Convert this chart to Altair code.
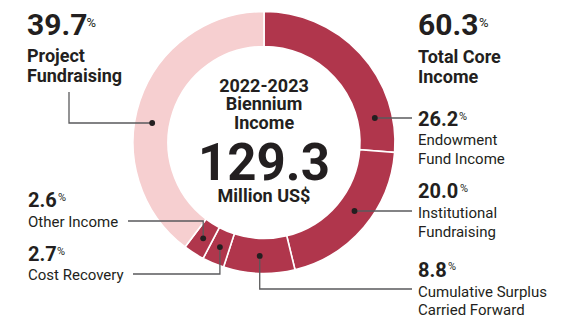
import math
import altair as alt
import pandas as pd

# ---------------- data ----------------
categories = ["Endowment Fund Income", "Institutional Fundraising",
              "Cumulative Surplus Carried Forward", "Cost Recovery",
              "Other Income", "Project Fundraising"]
shares = [26.2, 20.0, 8.8, 2.7, 2.6, 39.7]
groups = ["core", "core", "core", "core", "core", "project"]
total_core = 60.3
total_income = "129.3"

# ---------------- layout (page px) ----------------
OFF = 8
W, H = 562, 309
CX, CY = 264, 142.5
R_IN, R_OUT = 96, 131
R_MID = (R_IN + R_OUT) / 2
FONT = "Roboto"
DARK = "#231f20"
RED = "#b0364c"
PINK = "#f6cfd0"
LINE = "#5a5a5c"

df = pd.DataFrame({"cat": categories, "share": shares, "grp": groups,
                   "idx": list(range(len(categories)))})

# angle spans from data (clockwise from 12 o'clock)
cum = 0.0
spans = []
tot = sum(shares)
for s in shares:
    a0 = cum / tot * 360
    cum += s
    a1 = cum / tot * 360
    spans.append((a0, a1))

def pt(angle_deg, r):
    a = math.radians(angle_deg)
    return CX + r * math.sin(a), CY - r * math.cos(a)

def ring_at_y(y, side):
    dy = y - CY
    dx = math.sqrt(R_MID ** 2 - dy ** 2)
    return (CX + dx if side > 0 else CX - dx), y

# leader routing per category: (mode, leader y, end x)
routes = {
    "Endowment Fund Income": ("h", 118, 412),
    "Institutional Fundraising": ("h", 211, 412),
    "Cumulative Surplus Carried Forward": ("v", 289, 412),
    "Cost Recovery": ("v", 274, 133),
    "Other Income": ("v", 221, 128),
    "Project Fundraising": ("hv", 123, 69),
}
dots, segs = [], []
for i, c in enumerate(categories):
    mode, ly, ex = routes[c]
    a0, a1 = spans[i]
    if mode in ("h", "hv"):
        side = 1 if ex > CX else -1
        dx, dy = ring_at_y(ly, side)
        pts = [(dx, dy), (ex, ly)]
        if mode == "hv":
            pts.append((ex, 92))
    else:
        dx, dy = pt((a0 + a1) / 2, R_MID)
        pts = [(dx, dy), (dx, ly), (ex, ly)]
    dots.append({"x": dx - OFF, "y": dy - OFF})
    for k, (px, py) in enumerate(pts):
        segs.append({"cat": c, "k": k, "x": px - OFF, "y": py - OFF})
dots_df = pd.DataFrame(dots)
segs_df = pd.DataFrame(segs)

# text items: (text, x, y, size, weight, align)
texts = [
    (f"{shares[5]}", 27, 35, 30, "bold", "left"),
    ("%", 86.5, 27, 13, "normal", "left"),
    ("Project", 27, 62, 18, "bold", "left"),
    ("Fundraising", 27, 82, 18, "bold", "left"),
    (f"{total_core}", 418, 35, 30, "bold", "left"),
    ("%", 479, 27, 13, "normal", "left"),
    ("Total Core", 418, 63, 18, "bold", "left"),
    ("Income", 418, 83, 18, "bold", "left"),
    ("2022-2023", CX, 91.7, 18, "bold", "center"),
    ("Biennium", CX, 110, 18, "bold", "center"),
    ("Income", CX, 128.5, 18, "bold", "center"),
    (total_income, CX, 180, 51, "bold", "center"),
    ("Million US$", CX, 201.7, 18, "bold", "center"),
    (f"{shares[0]}", 418, 126, 20, "bold", "left"),
    ("%", 459, 119.5, 11, "normal", "left"),
    ("Endowment", 418, 145, 15, "normal", "left"),
    ("Fund Income", 418, 164, 15, "normal", "left"),
    (f"{shares[1]:.1f}", 418, 198.3, 20, "bold", "left"),
    ("%", 460, 191.5, 11, "normal", "left"),
    ("Institutional", 418, 218.3, 15, "normal", "left"),
    ("Fundraising", 418, 236.7, 15, "normal", "left"),
    (f"{shares[2]}", 418, 276.7, 20, "bold", "left"),
    ("%", 448, 270, 11, "normal", "left"),
    ("Cumulative Surplus", 418, 296.7, 15, "normal", "left"),
    ("Carried Forward", 418, 315, 15, "normal", "left"),
    (f"{shares[4]}", 28, 206.7, 20, "bold", "left"),
    ("%", 58, 200.5, 11, "normal", "left"),
    ("Other Income", 28, 226.7, 15, "normal", "left"),
    (f"{shares[3]}", 28, 261, 20, "bold", "left"),
    ("%", 57, 254.5, 11, "normal", "left"),
    ("Cost Recovery", 28, 280, 15, "normal", "left"),
]
tdf = pd.DataFrame(texts, columns=["t", "x", "y", "size", "weight", "align"])
tdf["x"] = tdf["x"] - OFF
tdf["y"] = tdf["y"] - OFF

X = lambda f: alt.X(f, scale=None, axis=None)
Y = lambda f: alt.Y(f, scale=None, axis=None)

donut = alt.Chart(df).mark_arc(innerRadius=R_IN, outerRadius=R_OUT,
                               stroke="white", strokeWidth=1.6).encode(
    theta=alt.Theta("share:Q", stack=True),
    order=alt.Order("idx:Q"),
    color=alt.Color("grp:N", scale=alt.Scale(domain=["core", "project"],
                                             range=[RED, PINK]), legend=None),
    x=alt.value(CX - OFF),
    y=alt.value(CY - OFF),
)

lines = alt.Chart(segs_df).mark_line(color=LINE, strokeWidth=1.3,
                                     strokeJoin="miter").encode(
    x=X("x:Q"), y=Y("y:Q"), detail="cat:N", order="k:Q")

points = alt.Chart(dots_df).mark_circle(size=34, color=DARK, opacity=1).encode(
    x=X("x:Q"), y=Y("y:Q"))

layers = [donut, lines, points]
for (size, weight, align), sub in tdf.groupby(["size", "weight", "align"]):
    layers.append(
        alt.Chart(sub).mark_text(font=FONT, fontSize=int(size), fontWeight=weight,
                                 align=align, baseline="alphabetic",
                                 color=DARK).encode(
            x=X("x:Q"), y=Y("y:Q"), text="t:N"))

chart = alt.layer(*layers).properties(
    width=W, height=H, padding=0,
    autosize=alt.AutoSizeParams(type="none"),
).configure_view(stroke=None)

chart.save("out.html", embed_options={"renderer": "svg", "actions": False})
